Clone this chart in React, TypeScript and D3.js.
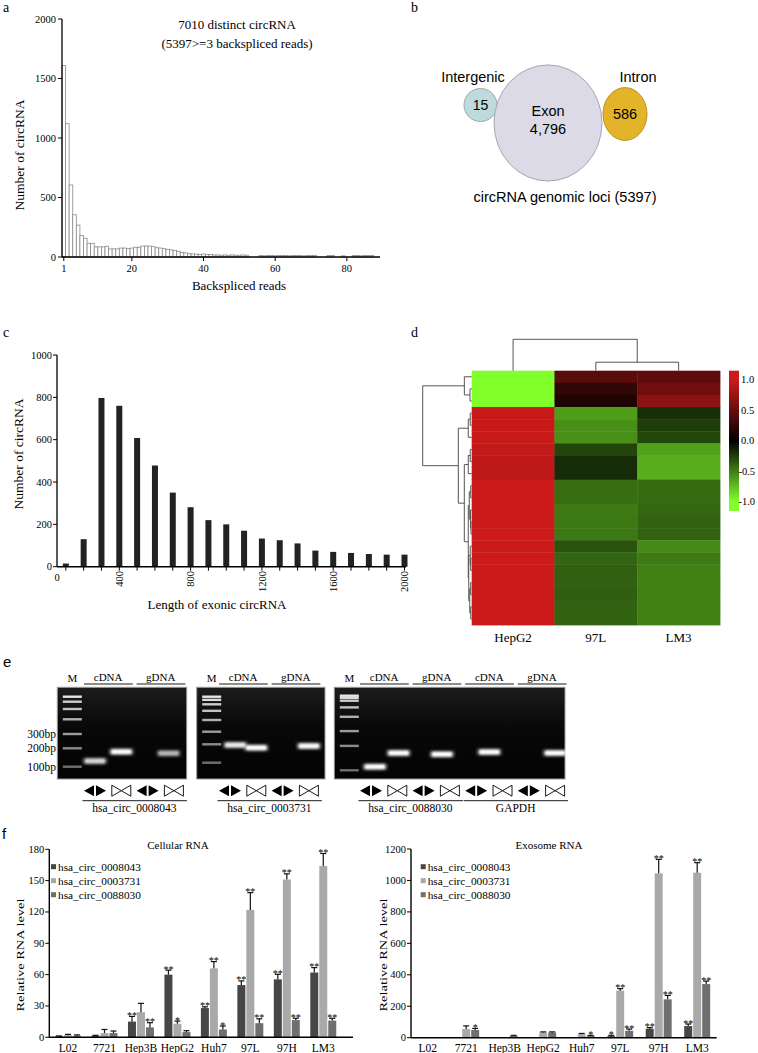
import React from 'react';
import * as d3 from 'd3';

const SERIF = '"Liberation Serif", "Times New Roman", Times, serif';
const SANS = '"Liberation Sans", Arial, Helvetica, sans-serif';

// ---------------- a: backspliced reads histogram ----------------
const readsCounts = [
  1610, 1120, 605, 355, 268, 180, 157, 115, 115, 85,
  85, 85, 90, 68, 68, 68, 75, 75, 70, 75,
  82, 82, 92, 92, 92, 87, 78, 75, 70, 64,
  59, 56, 48, 39, 34, 28, 25, 25, 22, 25,
  22, 22, 17, 17, 15, 17, 15, 17, 15, 15,
  17, 15, 0, 0, 0, 12, 10, 12, 12, 10,
  12, 12, 12, 10, 12, 12, 12, 10, 12, 12,
  12, 0, 0, 0, 12, 12, 0, 0, 10, 0,
  0, 12, 12, 10, 12, 12, 12,
];
const readsXTicks = [1, 20, 40, 60, 80];
const readsYTicks = [0, 500, 1000, 1500, 2000];
const readsTitle = ['7010 distinct circRNA', '(5397>=3 backspliced reads)'];

// ---------------- b: genomic loci ----------------
const lociNames = ['Intergenic', 'Exon', 'Intron'];
const lociCounts = [15, 4796, 586];
const lociColors = ['#bddadd', '#dcdae7', '#e3b429'];
const lociStroke = ['#9aa9ab', '#a7a5b3', '#b9922a'];
const lociCaption = 'circRNA genomic loci (5397)';

// ---------------- c: exonic length ----------------
const lengthBins = [100, 200, 300, 400, 500, 600, 700, 800, 900, 1000, 1100, 1200, 1300, 1400, 1500, 1600, 1700, 1800, 1900, 2000];
const lengthCounts = [15, 130, 797, 760, 608, 478, 350, 281, 220, 200, 170, 133, 125, 110, 76, 70, 65, 60, 57, 57];
const lengthXTicks = [400, 800, 1200, 1600, 2000];
const lengthYTicks = [0, 200, 400, 600, 800, 1000];

// ---------------- d: heatmap ----------------
const heatSamples = ['HepG2', '97L', 'LM3'];
const hepg2Z = [-1, -1, -1, 0.98, 0.98, 0.98, 0.95, 0.93, 0.93, 1, 1, 1, 1, 1, 1, 1, 1, 1, 1, 1, 1];
const l97Z = [0.44, 0.24, 0.15, -0.62, -0.56, -0.56, -0.27, -0.17, -0.17, -0.43, -0.43, -0.48, -0.47, -0.47, -0.33, -0.40, -0.38, -0.38, -0.37, -0.39, -0.39];
const lm3Z = [0.46, 0.55, 0.69, -0.18, -0.24, -0.28, -0.63, -0.68, -0.68, -0.42, -0.42, -0.40, -0.39, -0.39, -0.54, -0.48, -0.50, -0.50, -0.50, -0.50, -0.50];
const colorbarTicks = [1.0, 0.5, 0.0, -0.5, -1.0];
type Tree = number | [number, Tree, Tree];
const rowTree: Tree = [1.0,
  [0.15, 0, [0.035, 1, 2]],
  [0.273,
    [0.07, [0.03, 3, 4], 5],
    [0.151,
      [0.07, [0.03, 6, 7], 8],
      [0.07,
        [0.05, [0.02, 9, 10], [0.025, 11, [0.015, 12, 13]]],
        [0.06, [0.03, 14, [0.02, 15, 16]], [0.04, [0.02, 17, 18], [0.02, 19, 20]]],
      ],
    ],
  ],
];
const colTree: Tree = [1.0, 0, [0.27, 1, 2]];

// ---------------- e: gels ----------------
const gelGroups = [['cDNA', 'gDNA'], ['cDNA', 'gDNA'], ['cDNA', 'gDNA', 'cDNA', 'gDNA']];
const gelGenes = [['hsa_circ_0008043'], ['hsa_circ_0003731'], ['hsa_circ_0088030', 'GAPDH']];
const ladderBp = [
  [100, 200, 300, 500, 750, 1000, 2000],
  [100, 200, 300, 500, 750, 1000, 1500, 2000],
  [100, 200, 300, 500, 750, 1000, 1500, 2000],
];
const markerBp = [300, 200, 100];
// lane (1-based, may be fractional), size in bp, brightness
const gelBandLane = [[1, 2, 3.8], [1.2, 2, 4], [1.15, 2.05, 3.7, 5.5, 8]];
const gelBandBp = [[124, 176, 166], [195, 176, 188], [111, 164, 158, 168, 164]];
const gelBandStrength = [[0.8, 1, 0.65], [0.9, 1, 1], [1, 1, 1, 1, 1]];

// ---------------- f: RT-PCR bars ----------------
const cellLines = ['L02', '7721', 'Hep3B', 'HepG2', 'Huh7', '97L', '97H', 'LM3'];
const circNames = ['hsa_circ_0008043', 'hsa_circ_0003731', 'hsa_circ_0088030'];
const circColors = ['#464646', '#a9a9a9', '#6f6f6f'];
const cell0008043 = [1, 1.5, 15, 60, 28, 50, 55.5, 62];
const cell0008043Sd = [0.3, 0.4, 5, 4.3, 1.2, 4, 4.8, 4.7];
const cell0008043Sig = ['', '', '**', '**', '**', '**', '**', '**'];
const cell0003731 = [2, 4, 24, 13, 66, 122, 151, 164];
const cell0003731Sd = [0.8, 3.5, 8.5, 2.5, 6.5, 16.5, 5.5, 12];
const cell0003731Sig = ['', '', '', '*', '**', '**', '**', '**'];
const cell0088030 = [1.5, 4, 9.5, 5, 7.5, 13.5, 16.5, 16];
const cell0088030Sd = [0.8, 2, 4.5, 1.3, 3.3, 4.2, 1.7, 2.2];
const cell0088030Sig = ['', '', '**', '', '*', '**', '**', '**'];
const cellYTicks = [0, 30, 60, 90, 120, 150, 180];

const exo0008043 = [0, 2, 2, 0, 0, 10, 57, 74];
const exo0008043Sd = [0, 0, 0, 0, 0, 5, 7, 13];
const exo0008043Sig = ['', '', '', '', '', '*', '**', '**'];
const exo0003731 = [0, 55, 3, 33, 22, 299, 1045, 1049];
const exo0003731Sd = [0, 20, 0, 4, 5, 13, 89, 64];
const exo0003731Sig = ['', '', '', '', '', '**', '**', '**'];
const exo0088030 = [0, 49, 12, 33, 12, 44, 244, 341];
const exo0088030Sd = [0, 10, 3, 4, 3, 11, 25, 19];
const exo0088030Sig = ['', '*', '', '', '*', '**', '**', '**'];
const exoYTicks = [0, 200, 400, 600, 800, 1000, 1200];

// =================================================================

function PanelA() {
  const x = d3.scaleLinear().domain([0.5, 89.25]).range([62, 380]);
  const y = d3.scaleLinear().domain([0, 2000]).range([257, 19]);
  return (
    <g>
      <text x={3} y={12} fontFamily={SERIF} fontSize={14}>a</text>
      {readsCounts.map((c, i) =>
        c > 0 ? (
          <rect key={i} x={x(i + 0.5)} y={y(c)} width={x(i + 1.5) - x(i + 0.5)} height={y(0) - y(c)}
            fill="#fff" stroke="#8a8a8a" strokeWidth={0.8} />
        ) : null
      )}
      <line x1={62} x2={62} y1={y(2000)} y2={y(0)} stroke="#000" strokeWidth={1.3} />
      <line x1={62} x2={380} y1={y(0)} y2={y(0)} stroke="#000" strokeWidth={1.6} />
      {readsYTicks.map((t) => (
        <g key={t}>
          <line x1={58} x2={62} y1={y(t)} y2={y(t)} stroke="#000" strokeWidth={1} />
          <text x={56} y={y(t) + 3.5} textAnchor="end" fontFamily={SERIF} fontSize={10.5}>{t}</text>
        </g>
      ))}
      {readsXTicks.map((t) => (
        <g key={t}>
          <line x1={x(t)} x2={x(t)} y1={y(0)} y2={y(0) + 4} stroke="#000" strokeWidth={1} />
          <text x={x(t)} y={272} textAnchor="middle" fontFamily={SERIF} fontSize={10.5}>{t}</text>
        </g>
      ))}
      {readsTitle.map((s, i) => (
        <text key={i} x={237} y={28.5 + i * 19} textAnchor="middle" fontFamily={SERIF} fontSize={13}>{s}</text>
      ))}
      <text x={239} y={290} textAnchor="middle" fontFamily={SERIF} fontSize={13}>Backspliced reads</text>
      <text transform="translate(19,155) rotate(-90)" textAnchor="middle" dy="0.35em" fontFamily={SERIF} fontSize={13.5}>Number of circRNA</text>
    </g>
  );
}

function PanelB() {
  const rx = d3.scaleLinear().domain([15, 586, 4796]).range([16.5, 22, 54]);
  const aspect = [1.0, 1.2, 1.075];
  const order = [0, 2, 1];
  const exonCx = 548, exonCy = 123;
  const eR = rx(lociCounts[1]);
  const intR = rx(lociCounts[0]);
  const intronR = rx(lociCounts[2]);
  const centers = [
    [exonCx - eR - intR + 3, 105],
    [exonCx, exonCy],
    [exonCx + eR + intronR + 1, 114],
  ];
  const fmt = d3.format(',');
  return (
    <g fontFamily={SANS}>
      <text x={411} y={12} fontFamily={SERIF} fontSize={14}>b</text>
      {lociCounts.map((c, i) => (
        <ellipse key={i} cx={centers[i][0]} cy={centers[i][1]} rx={rx(c)} ry={rx(c) * (i === 1 ? aspect[2] : i === 2 ? aspect[1] : aspect[0])}
          fill={lociColors[i]} stroke={lociStroke[i]} strokeWidth={1} />
      ))}
      <text x={473} y={82} textAnchor="middle" fontSize={14.5}>{lociNames[0]}</text>
      <text x={638} y={82} textAnchor="middle" fontSize={14.5}>{lociNames[2]}</text>
      <text x={centers[0][0]} y={centers[0][1] + 5} textAnchor="middle" fontSize={14}>{fmt(lociCounts[0])}</text>
      <text x={centers[1][0]} y={centers[1][1] - 7} textAnchor="middle" fontSize={14.5}>{lociNames[1]}</text>
      <text x={centers[1][0]} y={centers[1][1] + 11} textAnchor="middle" fontSize={14.5}>{fmt(lociCounts[1])}</text>
      <text x={centers[2][0]} y={centers[2][1] + 5} textAnchor="middle" fontSize={14.5}>{fmt(lociCounts[2])}</text>
      <text x={565} y={202} textAnchor="middle" fontSize={14.5}>{lociCaption}</text>
      {order.length ? null : null}
    </g>
  );
}

function PanelC() {
  const x = d3.scaleLinear().domain([0, 2000]).range([48, 404.5]);
  const y = d3.scaleLinear().domain([0, 1000]).range([566.7, 355]);
  const bw = 6;
  return (
    <g>
      <text x={3} y={337} fontFamily={SERIF} fontSize={14}>c</text>
      {lengthBins.map((b, i) => (
        <rect key={b} x={x(b) - bw / 2} y={y(lengthCounts[i])} width={bw} height={y(0) - y(lengthCounts[i])} fill="#222" />
      ))}
      {lengthBins.map((b) => (
        <line key={'t' + b} x1={x(b)} x2={x(b)} y1={y(0)} y2={y(0) + 4} stroke="#000" strokeWidth={1} />
      ))}
      <line x1={57} x2={57} y1={y(1000)} y2={y(0)} stroke="#000" strokeWidth={1.3} />
      <line x1={57} x2={406} y1={y(0)} y2={y(0)} stroke="#000" strokeWidth={1.4} />
      {lengthYTicks.map((t) => (
        <g key={t}>
          <line x1={53} x2={57} y1={y(t)} y2={y(t)} stroke="#000" strokeWidth={1} />
          <text x={52} y={y(t) + 3.5} textAnchor="end" fontFamily={SERIF} fontSize={10.5}>{t}</text>
        </g>
      ))}
      <text x={57} y={581} textAnchor="middle" fontFamily={SERIF} fontSize={10.5}>0</text>
      {lengthXTicks.map((t) => (
        <text key={t} transform={`translate(${x(t)},${571}) rotate(-90)`} textAnchor="end" dy="0.35em" fontFamily={SERIF} fontSize={10.5}>{t}</text>
      ))}
      <text x={217} y={609} textAnchor="middle" fontFamily={SERIF} fontSize={13}>Length of exonic circRNA</text>
      <text transform="translate(18,454) rotate(-90)" textAnchor="middle" dy="0.35em" fontFamily={SERIF} fontSize={13.5}>Number of circRNA</text>
    </g>
  );
}

type Seg = { p1: number; h1: number; p2: number; h2: number };
function layoutTree(t: Tree, leafPos: (i: number) => number, segs: Seg[]): { pos: number; h: number } {
  if (typeof t === 'number') return { pos: leafPos(t), h: 0 };
  const [h, a, b] = t;
  const A = layoutTree(a, leafPos, segs);
  const B = layoutTree(b, leafPos, segs);
  segs.push({ p1: A.pos, h1: A.h, p2: A.pos, h2: h });
  segs.push({ p1: B.pos, h1: B.h, p2: B.pos, h2: h });
  segs.push({ p1: A.pos, h1: h, p2: B.pos, h2: h });
  return { pos: (A.pos + B.pos) / 2, h };
}

function PanelD() {
  const left = 471.7, right = 720, top = 370.7, bottom = 625;
  const cols = [hepg2Z, l97Z, lm3Z];
  const rows = d3.range(hepg2Z.length).map(String);
  const x = d3.scaleBand().domain(heatSamples).range([left, right]);
  const y = d3.scaleBand().domain(rows).range([top, bottom]);
  const color = d3.scaleLinear<string>().domain([-1, 0, 1]).range(['#80ff2a', '#000000', '#cc1a1a']).clamp(true);

  const rowSegs: Seg[] = [];
  layoutTree(rowTree, (i) => (y(String(i)) as number) + y.bandwidth() / 2, rowSegs);
  const hx = (h: number) => left - h * 49;
  const colSegs: Seg[] = [];
  layoutTree(colTree, (i) => (x(heatSamples[i]) as number) + x.bandwidth() / 2, colSegs);
  const hy = (h: number) => top - h * 31.4;

  const cb = d3.scaleLinear().domain([-1.15, 1.15]).range([510.7, 370.7]);
  const steps = d3.range(70).map((i) => -1.15 + (i + 0.5) * (2.3 / 70));
  const stepH = 140 / 70;

  return (
    <g>
      <text x={411} y={337} fontFamily={SERIF} fontSize={14}>d</text>
      {cols.map((vals, c) =>
        vals.map((v, r) => (
          <rect key={c + '-' + r} x={x(heatSamples[c])} y={y(String(r))} width={x.bandwidth() + 0.4} height={y.bandwidth() + 0.4} fill={color(v)} />
        ))
      )}
      {rowSegs.map((s, i) => (
        <line key={'r' + i} x1={hx(s.h1)} y1={s.p1} x2={hx(s.h2)} y2={s.p2} stroke="#555" strokeWidth={1} />
      ))}
      {colSegs.map((s, i) => (
        <line key={'c' + i} x1={s.p1} y1={hy(s.h1)} x2={s.p2} y2={hy(s.h2)} stroke="#555" strokeWidth={1} />
      ))}
      {heatSamples.map((s) => (
        <text key={s} x={(x(s) as number) + x.bandwidth() / 2} y={642} textAnchor="middle" fontFamily={SERIF} fontSize={13}>{s}</text>
      ))}
      {steps.map((v, i) => (
        <rect key={'cb' + i} x={729} y={cb(v) - stepH / 2} width={10} height={stepH + 0.3} fill={color(v)} />
      ))}
      {colorbarTicks.map((t) => (
        <text key={t} x={t < 0 ? 738.5 : 741} y={cb(t) + 3.5} fontFamily={SERIF} fontSize={10.5}>{t.toFixed(1)}</text>
      ))}
    </g>
  );
}

function Conv({ cx, cy }: { cx: number; cy: number }) {
  return (
    <g>
      <path d={`M${cx - 11},${cy} L${cx - 1},${cy - 5.5} L${cx - 1},${cy + 5.5} Z`} fill="#000" />
      <path d={`M${cx + 11},${cy} L${cx + 1},${cy - 5.5} L${cx + 1},${cy + 5.5} Z`} fill="#000" />
    </g>
  );
}
function Div({ cx, cy }: { cx: number; cy: number }) {
  return (
    <path d={`M${cx - 9.5},${cy - 5.5} L${cx},${cy} L${cx - 9.5},${cy + 5.5} Z M${cx + 9.5},${cy - 5.5} L${cx},${cy} L${cx + 9.5},${cy + 5.5} Z`}
      fill="#fff" stroke="#000" strokeWidth={0.9} strokeLinejoin="miter" />
  );
}

function PanelE() {
  const gelTop = 687.3, gelBottom = 779;
  const gelX = [[57.3, 186.7], [196.7, 325], [334.3, 565]];
  const laneStart = [37.7, 33.3, 36.7];
  const laneStep = 26.3;
  const migRange = [
    [766.7, 748.3, 734, 719.3, 701.7, 696.7],
    [762.7, 744.3, 731.7, 720, 704.3, 696.7],
    [770.3, 745.9, 731.1, 716.8, 700.7, 695.7],
  ];
  const migDomain = [100, 200, 300, 500, 1000, 2000];
  const ladderOpacity = d3.scaleLog().domain([100, 2000]).range([0.45, 0.95]);
  return (
    <g>
      <defs>
        <linearGradient id="gelbg" x1="0" y1="0" x2="0" y2="1">
          <stop offset="0" stopColor="#1c1c1c" />
          <stop offset="0.45" stopColor="#080808" />
          <stop offset="1" stopColor="#030303" />
        </linearGradient>
        <filter id="bandBlur" x="-50%" y="-150%" width="200%" height="400%">
          <feGaussianBlur stdDeviation="1.3 1.1" />
        </filter>
        <filter id="ladBlur" x="-20%" y="-150%" width="140%" height="400%">
          <feGaussianBlur stdDeviation="0.5 0.5" />
        </filter>
      </defs>
      <text x={3} y={667} fontFamily={SANS} fontSize={15}>e</text>
      {gelX.map(([x0, x1], g) => {
        const mig = d3.scaleLog().domain(migDomain).range(migRange[g]);
        const laneX = (l: number) => x0 + laneStart[g] + (l - 1) * laneStep;
        const ladderX = x0 + 15;
        const nLanes = gelGroups[g].length * 2;
        return (
          <g key={g}>
            <rect x={x0} y={gelTop} width={x1 - x0} height={gelBottom - gelTop} fill="url(#gelbg)" stroke="#9a9a9a" strokeWidth={1} />
            {ladderBp[g].map((bp) => (
              <rect key={bp} x={ladderX - 9.5} y={mig(bp) - 1.2} width={19} height={2.4} fill="#f2f2f2" opacity={ladderOpacity(bp)} filter="url(#ladBlur)" />
            ))}
            {gelBandLane[g].map((l, i) => (
              <g key={i}>
                <rect x={laneX(l) - 13} y={mig(gelBandBp[g][i]) - 4} width={26} height={8} rx={3} fill="#fff" opacity={0.25 * gelBandStrength[g][i]} filter="url(#bandBlur)" />
                <rect x={laneX(l) - 10.5} y={mig(gelBandBp[g][i]) - 2.5} width={21} height={5} rx={2} fill="#fff" opacity={gelBandStrength[g][i]} filter="url(#bandBlur)" />
              </g>
            ))}
            <text x={ladderX} y={681.5} textAnchor="middle" fontFamily={SERIF} fontSize={11}>M</text>
            {gelGroups[g].map((lab, k) => {
              const a = laneX(2 * k + 1), b = laneX(2 * k + 2);
              return (
                <g key={k}>
                  <line x1={a - 11} x2={b + 11.5} y1={684} y2={684} stroke="#000" strokeWidth={0.9} />
                  <text x={(a + b) / 2} y={681} textAnchor="middle" fontFamily={SERIF} fontSize={11}>{lab}</text>
                </g>
              );
            })}
            {d3.range(1, nLanes + 1).map((l) =>
              l % 2 === 1 ? <Conv key={l} cx={laneX(l)} cy={790.7} /> : <Div key={l} cx={laneX(l)} cy={790.7} />
            )}
            {gelGenes[g].map((gene, k) => {
              const a = laneX(4 * k + 1), b = laneX(4 * k + 4);
              return (
                <g key={gene}>
                  <line x1={a - 12.5} x2={b + 13} y1={800.7} y2={800.7} stroke="#000" strokeWidth={0.9} />
                  <text x={(a + b) / 2} y={811.5} textAnchor="middle" fontFamily={SERIF} fontSize={11.5}>{gene}</text>
                </g>
              );
            })}
            {g === 0 ? markerBp.map((bp) => (
              <text key={bp} x={56} y={mig(bp) + 4} textAnchor="end" fontFamily={SERIF} fontSize={11.5}>{bp + 'bp'}</text>
            )) : null}
          </g>
        );
      })}
    </g>
  );
}

type BarCfg = {
  axisX: number; axisEnd: number; y0: number; y1: number; yMax: number; yTicks: number[];
  bandRange: [number, number]; padInner: number; title: string; titleX: number;
  legendX: number; ylabelX: number;
  vals: number[][]; sds: number[][]; sigs: string[][];
};

function BarPanel(cfg: BarCfg) {
  const y = d3.scaleLinear().domain([0, cfg.yMax]).range([cfg.y0, cfg.y1]);
  const x0 = d3.scaleBand().domain(cellLines).range(cfg.bandRange).paddingInner(cfg.padInner).paddingOuter(cfg.padInner / 2);
  const x1 = d3.scaleBand().domain(circNames).range([0, x0.bandwidth()]);
  return (
    <g>
      {cellLines.map((c, i) => (
        <g key={c} transform={`translate(${x0(c)},0)`}>
          {circNames.map((s, k) => {
            const v = cfg.vals[k][i];
            const sd = cfg.sds[k][i];
            const bx = (x1(s) as number);
            const cx = bx + x1.bandwidth() / 2;
            const top = y(v + sd);
            return (
              <g key={s}>
                {v > 0 ? <rect x={bx + 0.5} y={y(v)} width={x1.bandwidth() - 1} height={cfg.y0 - y(v)} fill={circColors[k]} /> : null}
                {sd > 0 ? (
                  <g stroke="#111" strokeWidth={1.2}>
                    <line x1={cx} x2={cx} y1={y(v)} y2={top} />
                    <line x1={cx - 3} x2={cx + 3} y1={top} y2={top} />
                  </g>
                ) : null}
                {cfg.sigs[k][i] ? (
                  <text x={cx} y={top + 2.5} textAnchor="middle" fontFamily={SERIF} fontSize={10}>{cfg.sigs[k][i]}</text>
                ) : null}
              </g>
            );
          })}
        </g>
      ))}
      <line x1={cfg.axisX} x2={cfg.axisX} y1={cfg.y1} y2={cfg.y0} stroke="#000" strokeWidth={1.4} />
      <line x1={cfg.axisX} x2={cfg.axisEnd} y1={cfg.y0} y2={cfg.y0} stroke="#000" strokeWidth={1.6} />
      {cfg.yTicks.map((t) => (
        <g key={t}>
          <line x1={cfg.axisX - 4} x2={cfg.axisX} y1={y(t)} y2={y(t)} stroke="#000" strokeWidth={1} />
          <text x={cfg.axisX - 5} y={y(t) + 3.5} textAnchor="end" fontFamily={SERIF} fontSize={10.5}>{t}</text>
        </g>
      ))}
      {cellLines.map((c) => (
        <text key={c} x={(x0(c) as number) + x0.bandwidth() / 2} y={1052} textAnchor="middle" fontFamily={SERIF} fontSize={11.5}>{c}</text>
      ))}
      <text x={cfg.titleX} y={849} textAnchor="middle" fontFamily={SERIF} fontSize={11}>{cfg.title}</text>
      {circNames.map((s, k) => (
        <g key={s}>
          <rect x={cfg.legendX} y={864.2 + k * 14} width={5} height={5} fill={circColors[k]} />
          <text x={cfg.legendX + 7} y={870.7 + k * 14} fontFamily={SERIF} fontSize={11.3}>{s}</text>
        </g>
      ))}
      <text transform={`translate(${cfg.ylabelX},955) rotate(-90)`} textAnchor="middle" dy="0.35em" fontFamily={SERIF} fontSize={10.5}
        textLength={113} lengthAdjust="spacingAndGlyphs">Relative RNA level</text>
    </g>
  );
}

function PanelF() {
  return (
    <g>
      <text x={2} y={839} fontFamily={SANS} fontSize={15}>f</text>
      <BarPanel axisX={49.3} axisEnd={353} y0={1037.3} y1={849.3} yMax={180} yTicks={cellYTicks}
        bandRange={[49.8, 341.5]} padInner={0.26} title="Cellular RNA" titleX={178} legendX={51} ylabelX={20}
        vals={[cell0008043, cell0003731, cell0088030]} sds={[cell0008043Sd, cell0003731Sd, cell0088030Sd]}
        sigs={[cell0008043Sig, cell0003731Sig, cell0088030Sig]} />
      <BarPanel axisX={411} axisEnd={716.7} y0={1037.7} y1={849} yMax={1200} yTicks={exoYTicks}
        bandRange={[408.45, 716.45]} padInner={0.3} title="Exosome RNA" titleX={549} legendX={420.7} ylabelX={383}
        vals={[exo0008043, exo0003731, exo0088030]} sds={[exo0008043Sd, exo0003731Sd, exo0088030Sd]}
        sigs={[exo0008043Sig, exo0003731Sig, exo0088030Sig]} />
    </g>
  );
}

export default function App() {
  return (
    <svg width={758} height={1053} viewBox="0 0 758 1053" style={{ position: 'absolute', left: 0, top: 0, background: '#fff' }}>
      <rect width={758} height={1053} fill="#fff" />
      <PanelA />
      <PanelB />
      <PanelC />
      <PanelD />
      <PanelE />
      <PanelF />
    </svg>
  );
}
